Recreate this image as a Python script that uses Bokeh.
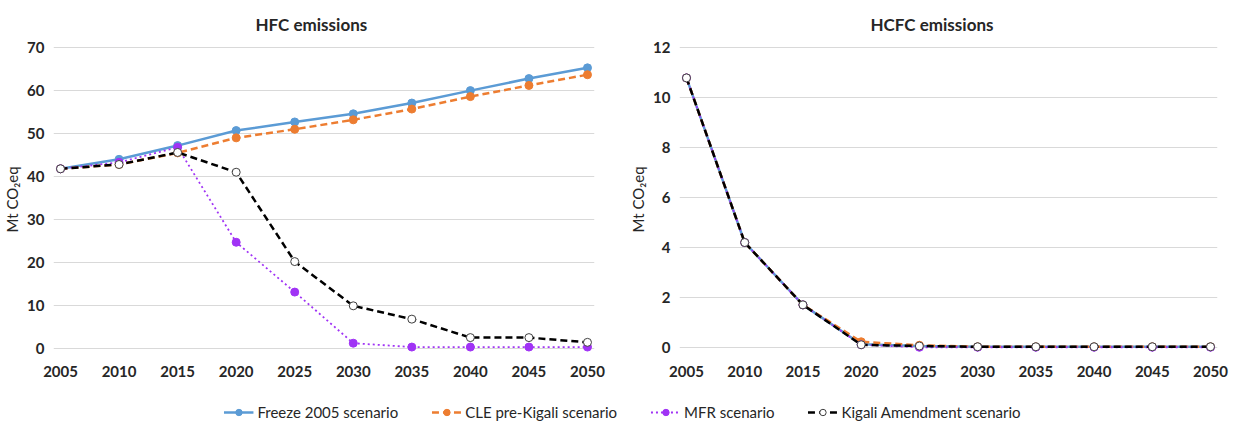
from bokeh.plotting import figure
from bokeh.layouts import column, row
from bokeh.models import Range1d, FixedTicker, Legend, LegendItem, ColumnDataSource
from bokeh.embed import file_html
from bokeh.resources import INLINE

years = [2005, 2010, 2015, 2020, 2025, 2030, 2035, 2040, 2045, 2050]
x_ticks = [2005, 2010, 2015, 2020, 2025, 2030, 2035, 2040, 2045, 2050]

hfc_freeze = [41.8, 44.0, 47.2, 50.7, 52.7, 54.6, 57.1, 60.0, 62.8, 65.3]
hfc_cle = [41.8, 42.8, 45.5, 49.0, 51.0, 53.2, 55.7, 58.6, 61.2, 63.7]
hfc_mfr = [41.8, 43.3, 46.8, 24.7, 13.1, 1.2, 0.3, 0.3, 0.3, 0.3]
hfc_kigali = [41.8, 42.8, 45.6, 41.0, 20.2, 9.9, 6.8, 2.5, 2.5, 1.4]
hfc_y_ticks = [0, 10, 20, 30, 40, 50, 60, 70]

hcfc_freeze = [10.8, 4.2, 1.7, 0.12, 0.05, 0.02, 0.02, 0.02, 0.02, 0.02]
hcfc_cle = [10.8, 4.2, 1.7, 0.22, 0.08, 0.02, 0.02, 0.02, 0.02, 0.02]
hcfc_mfr = [10.8, 4.2, 1.7, 0.1, 0.0, 0.0, 0.0, 0.0, 0.0, 0.0]
hcfc_kigali = [10.8, 4.2, 1.7, 0.1, 0.05, 0.02, 0.02, 0.02, 0.02, 0.02]
hcfc_y_ticks = [0, 2, 4, 6, 8, 10, 12]

names = ["Freeze 2005 scenario", "CLE pre-Kigali scenario", "MFR scenario", "Kigali Amendment scenario"]

FONT = "Lato"
BLUE = "#5B9BD5"
ORANGE = "#ED7D31"
PURPLE = "#A033F5"
BLACK = "#000000"
GRID = "#D9D9D9"
TXT = "#262626"

styles = [
    dict(color=BLUE, dash="solid", lw=2.5, fill=BLUE, mline=BLUE),
    dict(color=ORANGE, dash="7 4", lw=2.5, fill=ORANGE, mline=ORANGE),
    dict(color=PURPLE, dash="2 3", lw=1.8, fill=PURPLE, mline=PURPLE),
    dict(color=BLACK, dash="7 4", lw=2.5, fill="white", mline="#404040"),
]


def make_chart(title, series, yr, yticks, left_border, right_border, fw, toff):
    p = figure(frame_width=fw, frame_height=308,
               output_backend="svg", toolbar_location=None,
               x_range=Range1d(2004.4, 2050.6), y_range=Range1d(*yr),
               min_border_left=left_border, min_border_right=right_border,
               min_border_top=45, min_border_bottom=32)
    p.title.text = title
    p.title.align = "left"
    p.title.offset = toff
    p.title.text_font = FONT
    p.title.text_font_size = "17px"
    p.title.text_font_style = "bold"
    p.title.text_color = TXT
    p.title.standoff = 22
    p.outline_line_color = None
    p.background_fill_color = "white"
    p.border_fill_color = "white"
    p.xgrid.grid_line_color = None
    p.ygrid.grid_line_color = GRID
    p.ygrid.grid_line_width = 1
    p.ygrid.ticker = FixedTicker(ticks=yticks)
    p.xaxis.ticker = FixedTicker(ticks=x_ticks)
    p.yaxis.ticker = FixedTicker(ticks=yticks)
    for ax in (p.xaxis[0], p.yaxis[0]):
        ax.axis_line_color = None
        ax.major_tick_line_color = None
        ax.minor_tick_line_color = None
        ax.major_label_text_font = FONT
        ax.major_label_text_font_size = "15px"
        ax.major_label_text_font_style = "bold"
        ax.major_label_text_color = TXT
    p.xaxis.major_label_standoff = 6
    p.yaxis.major_label_standoff = 3
    p.yaxis.axis_label = "Mt CO\u2082eq"
    p.yaxis.axis_label_text_font = FONT
    p.yaxis.axis_label_text_font_size = "15px"
    p.yaxis.axis_label_text_font_style = "normal"
    p.yaxis.axis_label_text_color = TXT
    p.yaxis.axis_label_standoff = 3
    for vals, st in zip(series, styles):
        src = ColumnDataSource(dict(x=years, y=vals))
        p.line("x", "y", source=src, line_color=st["color"], line_width=st["lw"],
               line_dash=st["dash"])
        p.scatter("x", "y", source=src, marker="circle", size=8,
                  fill_color=st["fill"], line_color=st["mline"], line_width=1)
    return p


p1 = make_chart("HFC emissions", [hfc_freeze, hfc_cle, hfc_mfr, hfc_kigali],
                (-1.2, 70.5), hfc_y_ticks, 45, 26, 541, 202)
p2 = make_chart("HCFC emissions", [hcfc_freeze, hcfc_cle, hcfc_mfr, hcfc_kigali],
                (-0.25, 12.1), hcfc_y_ticks, 59, 15, 538, 191)

# legend strip (sample renderers sit outside the visible range; only the legend shows them)
pl = figure(width=1224, height=36, output_backend="svg", toolbar_location=None,
            x_range=Range1d(0, 1), y_range=Range1d(0, 1),
            min_border=0, min_border_left=20)
pl.axis.visible = False
pl.grid.visible = False
pl.outline_line_color = None
items = []
for name, st in zip(names, styles):
    src = ColumnDataSource(dict(x=[-5], y=[-5]))
    lr = pl.line("x", "y", source=src, line_color=st["color"], line_width=st["lw"],
                 line_dash=st["dash"])
    sr = pl.scatter("x", "y", source=src, marker="circle", size=8,
                    fill_color=st["fill"], line_color=st["mline"], line_width=1)
    items.append(LegendItem(label=name, renderers=[lr, sr]))
legend = Legend(items=items, orientation="horizontal", location="bottom",
                label_text_font=FONT, label_text_font_size="15px", label_text_color=TXT,
                spacing=33, glyph_width=30, glyph_height=16, label_standoff=4,
                label_height=16, border_line_color=None,
                background_fill_alpha=0, padding=0, margin=0)
pl.add_layout(legend)

layout = column(row(p1, p2), pl)
open("out.html", "w").write(file_html(layout, INLINE))
